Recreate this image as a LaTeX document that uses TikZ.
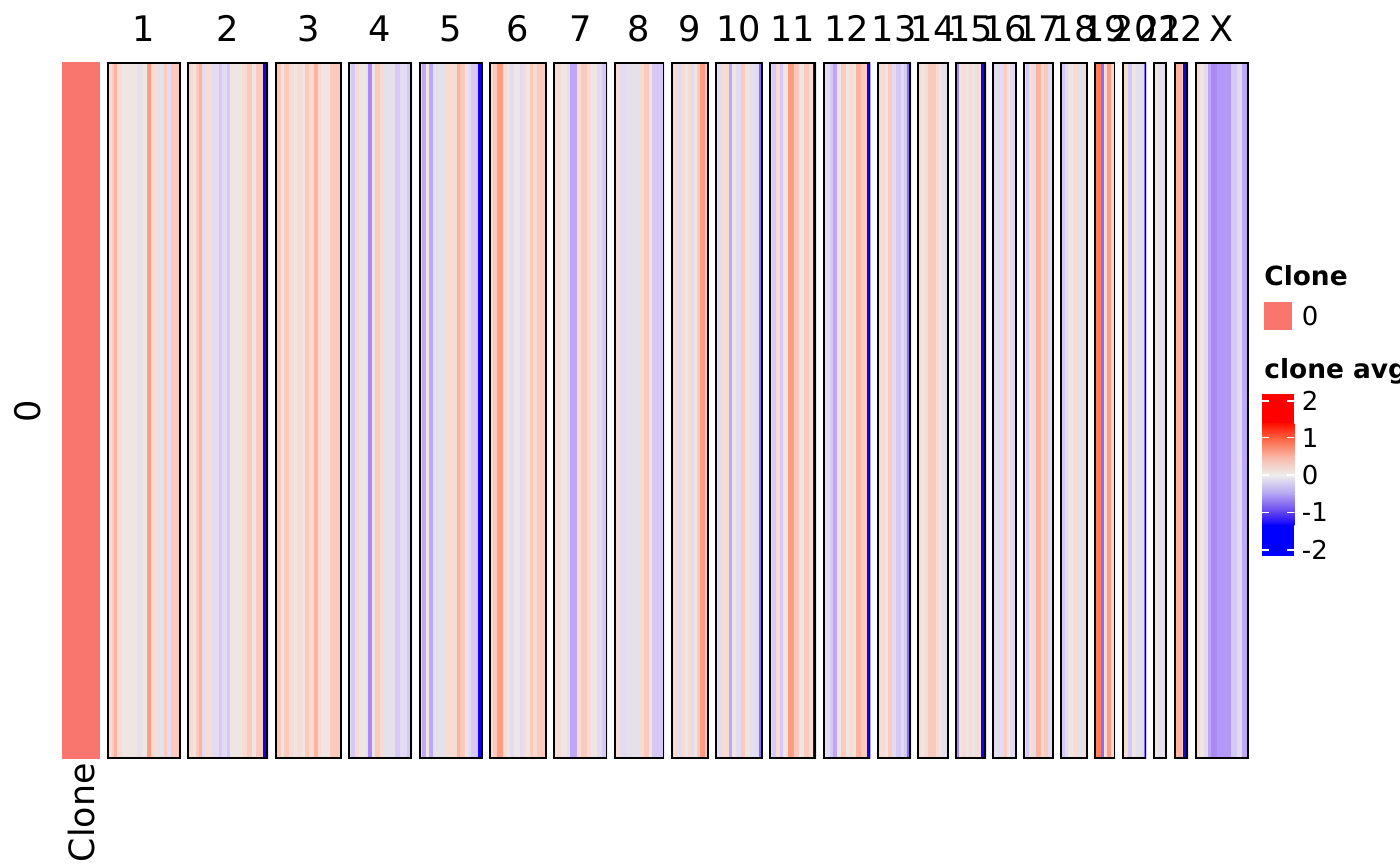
\documentclass[tikz,border=0pt]{standalone}
\usepackage{fontspec}
\setmainfont{DejaVu Sans}
\definecolor{cW}{HTML}{EFE6E3}
\definecolor{cG}{HTML}{E4E1EA}
\definecolor{p1}{HTML}{F6DCD5}
\definecolor{p2}{HTML}{FCC9BD}
\definecolor{p3}{HTML}{FFB29E}
\definecolor{p4}{HTML}{FF9C82}
\definecolor{p5}{HTML}{FF7E5E}
\definecolor{v1}{HTML}{E2DBF2}
\definecolor{v2}{HTML}{D6C9F5}
\definecolor{v3}{HTML}{BFA6F7}
\definecolor{v3b}{HTML}{B498F8}
\definecolor{v4}{HTML}{A98AF7}
\definecolor{v5}{HTML}{8E6CF2}
\definecolor{cB}{HTML}{1200F5}
\definecolor{clonecol}{HTML}{F8766D}
\newcommand\hmpanel[4]{%
  \begin{scope}
    \clip (#2,62) rectangle (#3,759);
    \xdef\hmx{#2}%
    \foreach \hc/\hw in {#4} {
      \pgfmathsetmacro\hmnx{\hmx+\hw}
      \fill[\hc] (\hmx,62) rectangle (\hmnx+0.4,759);
      \xdef\hmx{\hmnx}
    }
  \end{scope}
  \draw[panelborder] (#2+0.9,62.9) rectangle (#3-0.9,758.1);
  \node[plabel] (chr#1) at ({(#2+#3)/2},41.7) {#1};
}
\begin{document}
\begin{tikzpicture}[x=0.5pt,y=-0.5pt,
  plabel/.style={inner sep=0,font=\fontsize{17.6}{20}\selectfont,anchor=base},
  ltitle/.style={inner sep=0,font=\fontsize{13.2}{15}\selectfont\bfseries,anchor=base west},
  llabel/.style={inner sep=0,font=\fontsize{13}{15}\selectfont,anchor=west},
  panelborder/.style={draw=black,line width=0.9pt},
  tickmark/.style={draw=white,line width=0.6pt}]
\useasboundingbox[fill=white] (0,0) rectangle (1400,865);

% clone annotation bar
\fill[clonecol] (62.3,62) rectangle (100,759);
\node[inner sep=0,font=\fontsize{17.6}{20}\selectfont,rotate=90] (rowlab) at (28,411) {0};
\node[inner sep=0,font=\fontsize{17.4}{20}\selectfont,rotate=90,anchor=base east] (clonelab) at (94,763) {Clone};

% heatmap panels
\hmpanel{1}{107}{180.7}{p1/4.7, p2/2.3, p3/2.7, p1/5, cW/15, cG/5, cW/5, p4/4, p1/7.6, cG/5.7, p2/3.3, v1/3.4, p2/60}
\hmpanel{2}{187.3}{268}{v1/2.4, p1/3.3, cW/2.7, p2/3.3, p3/2.7, v1/3.3, p1/6.7, v1/7.3, v2/3.3, v1/4.4, v2/3.3, cW/11.7, p1/5, p2/5, cW/4, p2/7.6, cB/60}
\hmpanel{3}{274.7}{341.7}{p1/2.6, p2/3.4, cW/3.3, p2/5, p1/5, cW/3.3, p1/5, cW/3, p2/4, p1/5, p3/4, p1/3, cW/8.7, p2/60}
\hmpanel{4}{348.3}{412}{v1/3, v2/3.7, p1/4, cW/7, cG/2, v4/4, cW/3.3, p2/4.7, p1/3, cG/12, v2/5, v1/6.7, v2/60}
\hmpanel{5}{418.7}{482.7}{v1/3, v3/4.3, cW/3, v3/4, cG/12, p1/12, p3/3, p2/5, cW/3, v1/3, v2/7, cB/60}
\hmpanel{6}{489.3}{546.7}{p1/3.7, p2/4, p4/6.3, p1/3.7, cW/3.3, v1/3.3, cW/6, v1/3.3, p1/3.3, cW/3.3, p2/3.5, p1/3.5, p2/60}
\hmpanel{7}{553.3}{607.3}{p1/7.7, cW/6, cG/3, v3/6.7, p1/4, p2/6.6, p1/3.3, cW/6.7, v1/5, v2/60}
\hmpanel{8}{613.7}{664.3}{v3/2.3, p1/4, v1/6, cG/13, p1/5, p2/5, cW/3.3, v2/60}
\hmpanel{9}{671}{708.7}{v1/3.3, p1/3.3, v1/4, p1/3, cW/3, p1/3, v1/3, cW/3, p2/3, p4/5.4, p2/60}
\hmpanel{10}{715}{762.7}{cW/3, v1/4, p1/6.6, v3/3, cW/4, v1/5, p2/4, cW/5, cG/4, v1/5, v5/60}
\hmpanel{11}{769}{816}{p1/3, v2/4.3, p1/4, v2/3, cW/5, p4/5.7, p2/5, cW/5, p2/5, p1/3.5, cB/60}
\hmpanel{12}{823}{870.3}{p1/3, v1/4, v2/3, v3/4, cW/3.5, p2/5, cW/3, p1/4, cW/3, p3/5, p2/6, cB/60}
\hmpanel{13}{877}{911}{v1/3, p1/5, cW/3, p2/4, v1/3.5, v2/5, v1/3.5, v2/3, v5/60}
\hmpanel{14}{917.3}{948.7}{p1/3.3, cW/4, p1/3.4, p2/8, p1/3, cW/3, cG/60}
\hmpanel{15}{955}{986}{v4/4, cW/3, p1/4, cW/3, p1/3, cW/3, p1/6, cB/60}
\hmpanel{16}{992.3}{1016.7}{v1/3, cG/3, v1/6, p2/3, cW/3, v1/60}
\hmpanel{17}{1023}{1054}{p1/3, v2/3, p1/4, v1/3, p3/4.5, p1/3.5, p2/4, v1/60}
\hmpanel{18}{1060.3}{1087.7}{v2/4.5, v1/3.5, cW/5, p1/4, cG/7, p1/60}
\hmpanel{19}{1094.3}{1115.3}{p5/7, v5/3, p1/3, p4/4, p1/60}
\hmpanel{20}{1121.7}{1146.3}{p1/6, v2/4, cW/4, cG/6, v1/2, v5/60}
\hmpanel{21}{1152.7}{1167}{p1/2.5, cW/3, cG/60}
\hmpanel{22}{1173.7}{1188}{p1/2, p3/6.5, p2/1, cB/60}
\hmpanel{X}{1194.7}{1248.7}{v1/2, p1/3, cW/4, v1/4, v3/3, v4/6.6, v3b/13.4, v2/6.7, v1/5, v3/60}

% legend: Clone
\node[ltitle] (legclone) at (1264,286) {Clone};
\fill[clonecol] (1264.3,301.7) rectangle (1292.3,330);
\node[llabel] (legclone0) at (1301.5,316) {0};

% legend: clone avg
\node[ltitle] (legavg) at (1264,379) {clone avg};
\fill[red] (1262.3,394.3) rectangle (1294.3,423.5);
\shade[top color=red!90!orange, bottom color={rgb,255:red,255;green,96;blue,64}] (1262.3,423) rectangle (1294.3,438.2);
\shade[top color={rgb,255:red,255;green,96;blue,64}, bottom color={rgb,255:red,248;green,180;blue,164}] (1262.3,437.7) rectangle (1294.3,456.5);
\shade[top color={rgb,255:red,248;green,180;blue,164}, bottom color={rgb,255:red,238;green,238;blue,238}] (1262.3,456) rectangle (1294.3,475.5);
\shade[top color={rgb,255:red,238;green,238;blue,238}, bottom color={rgb,255:red,178;green,162;blue,244}] (1262.3,475) rectangle (1294.3,494.5);
\shade[top color={rgb,255:red,178;green,162;blue,244}, bottom color={rgb,255:red,96;green,64;blue,240}] (1262.3,494) rectangle (1294.3,512.8);
\shade[top color={rgb,255:red,96;green,64;blue,240}, bottom color={rgb,255:red,8;green,0;blue,255}] (1262.3,512.3) rectangle (1294.3,525.5);
\fill[blue] (1262.3,525) rectangle (1294.3,555.7);
\foreach \ty/\tl [count=\k] in {401/2, 437.7/1, 475/0, 512.3/-1, 550/-2} {
  \draw[tickmark] (1262.3,\ty) -- (1269.3,\ty);
  \draw[tickmark] (1287.3,\ty) -- (1294.3,\ty);
  \node[llabel] (cb\k) at (1301.5,\ty) {\tl};
}
\end{tikzpicture}
\end{document}
